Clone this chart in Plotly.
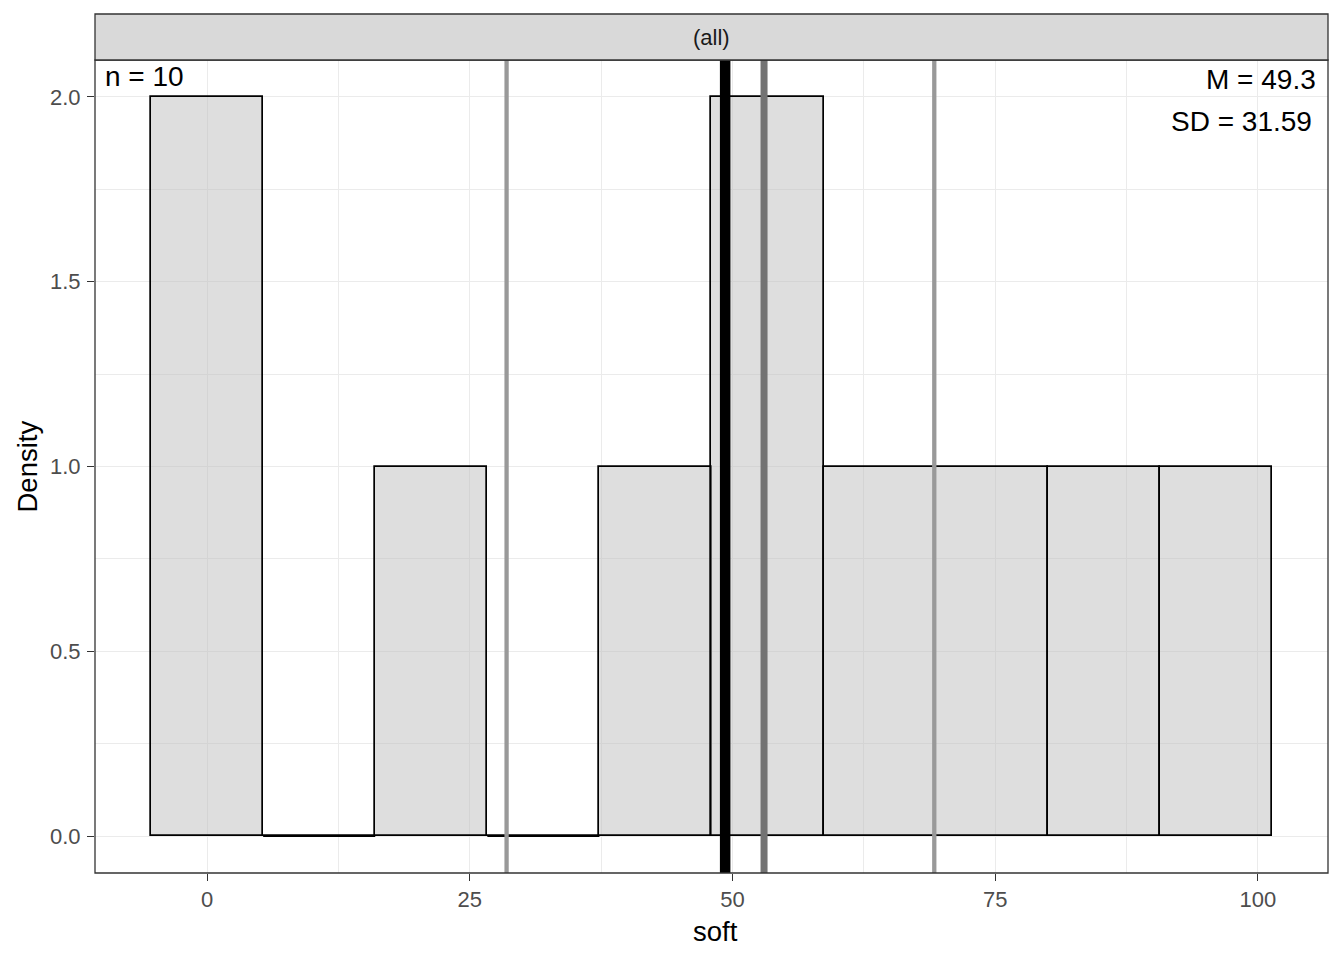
import plotly.graph_objects as go

# ---- data ----
bin_centers = [0.0, 10.667, 21.333, 32.0, 42.667, 53.333, 64.0, 74.667, 85.333, 96.0]
bin_width = 10.667
density = [2, 0, 1, 0, 1, 2, 1, 1, 1, 1]

n_obs = 10
mean_val = 49.3
sd_val = 31.59
median_val = 53.0
quartiles = [28.5, 69.2]

x_ticks = [0, 25, 50, 75, 100]
y_ticks = [0.0, 0.5, 1.0, 1.5, 2.0]
strip_label = "(all)"
x_title = "soft"
y_title = "Density"

FONT = "Liberation Sans, Arial, sans-serif"
# page body adds an 8px offset, so the figure is sized to fit the window
W, H = 1328, 944
ML, MR, MT, MB = 87, 8, 52, 79
panel_h = H - MT - MB

fig = go.Figure()

fig.add_trace(go.Bar(
    x=bin_centers, y=density, width=[bin_width] * len(bin_centers), base=0,
    marker=dict(color="rgba(190,190,190,0.5)", line=dict(color="black", width=1.7)),
    showlegend=False, hoverinfo="skip",
))

# zero-height bins drawn as a flat outline at y=0 (as ggplot does)
for c, d in zip(bin_centers, density):
    if d == 0:
        fig.add_trace(go.Scatter(
            x=[c - bin_width / 2, c + bin_width / 2], y=[0, 0], mode="lines",
            line=dict(color="black", width=1.7), showlegend=False, hoverinfo="skip"))

shapes = []
# vertical reference lines
for q in quartiles:
    shapes.append(dict(type="line", xref="x", yref="paper", x0=q, x1=q, y0=0, y1=1,
                       line=dict(color="#999999", width=4.3), layer="above"))
shapes.append(dict(type="line", xref="x", yref="paper", x0=median_val, x1=median_val, y0=0, y1=1,
                   line=dict(color="#737373", width=7), layer="above"))
shapes.append(dict(type="line", xref="x", yref="paper", x0=mean_val, x1=mean_val, y0=0, y1=1,
                   line=dict(color="black", width=10.5), layer="above"))
# panel border
shapes.append(dict(type="rect", xref="paper", yref="paper", x0=0, x1=1, y0=0, y1=1,
                   line=dict(color="#333333", width=1.3), fillcolor="rgba(0,0,0,0)", layer="above"))
# facet strip
strip_h = 46 / panel_h
shapes.append(dict(type="rect", xref="paper", yref="paper", x0=0, x1=1, y0=1, y1=1 + strip_h,
                   line=dict(color="#333333", width=1.3), fillcolor="#d9d9d9", layer="above"))

annotations = [
    dict(text=strip_label, xref="paper", yref="paper", x=0.5, y=1, yshift=23,
         xanchor="center", yanchor="middle", showarrow=False,
         font=dict(family=FONT, size=22, color="#1a1a1a")),
    dict(text=f"n = {n_obs}", xref="paper", yref="paper", x=0, y=1, xshift=8, yshift=-16,
         xanchor="left", yanchor="middle", showarrow=False,
         font=dict(family=FONT, size=28, color="black")),
    dict(text=f"M = {mean_val}", xref="paper", yref="paper", x=1, y=1, xshift=-10, yshift=-19,
         xanchor="right", yanchor="middle", showarrow=False,
         font=dict(family=FONT, size=28, color="black")),
    dict(text=f"SD = {sd_val}", xref="paper", yref="paper", x=1, y=1, xshift=-14, yshift=-61,
         xanchor="right", yanchor="middle", showarrow=False,
         font=dict(family=FONT, size=28, color="black")),
    dict(text=x_title, xref="paper", yref="paper", x=0.5, y=0, xshift=4, yshift=-58,
         xanchor="center", yanchor="middle", showarrow=False,
         font=dict(family=FONT, size=27.5, color="black")),
    dict(text=y_title, xref="paper", yref="paper", x=0, y=0.5, xshift=-68, textangle=-90,
         xanchor="center", yanchor="middle", showarrow=False,
         font=dict(family=FONT, size=27.5, color="black")),
]

fig.update_layout(
    width=W, height=H,
    margin=dict(l=ML, r=MR, t=MT, b=MB),
    paper_bgcolor="white", plot_bgcolor="white",
    shapes=shapes, annotations=annotations,
    bargap=0, showlegend=False,
    font=dict(family=FONT),
    xaxis=dict(
        range=[-10.667, 106.667], tickmode="array", tickvals=x_ticks,
        ticktext=[str(t) for t in x_ticks],
        showgrid=True, gridcolor="#ebebeb", gridwidth=1.1,
        minor=dict(tickmode="array", tickvals=[-12.5, 12.5, 37.5, 62.5, 87.5],
                   showgrid=True, gridcolor="#ebebeb", gridwidth=0.55),
        zeroline=False, showline=False,
        ticks="outside", ticklen=7, tickwidth=1.2, tickcolor="#333333",
        tickfont=dict(family=FONT, size=22, color="#4d4d4d"),
    ),
    yaxis=dict(
        range=[-0.1, 2.1], tickmode="array", tickvals=y_ticks,
        ticktext=[f"{t:.1f}" for t in y_ticks],
        showgrid=True, gridcolor="#ebebeb", gridwidth=1.1,
        minor=dict(tickmode="array", tickvals=[0.25, 0.75, 1.25, 1.75],
                   showgrid=True, gridcolor="#ebebeb", gridwidth=0.55),
        zeroline=False, showline=False,
        ticks="outside", ticklen=7, tickwidth=1.2, tickcolor="#333333",
        ticklabelstandoff=2,
        tickfont=dict(family=FONT, size=22, color="#4d4d4d"),
    ),
)

fig.write_html("out.html")
